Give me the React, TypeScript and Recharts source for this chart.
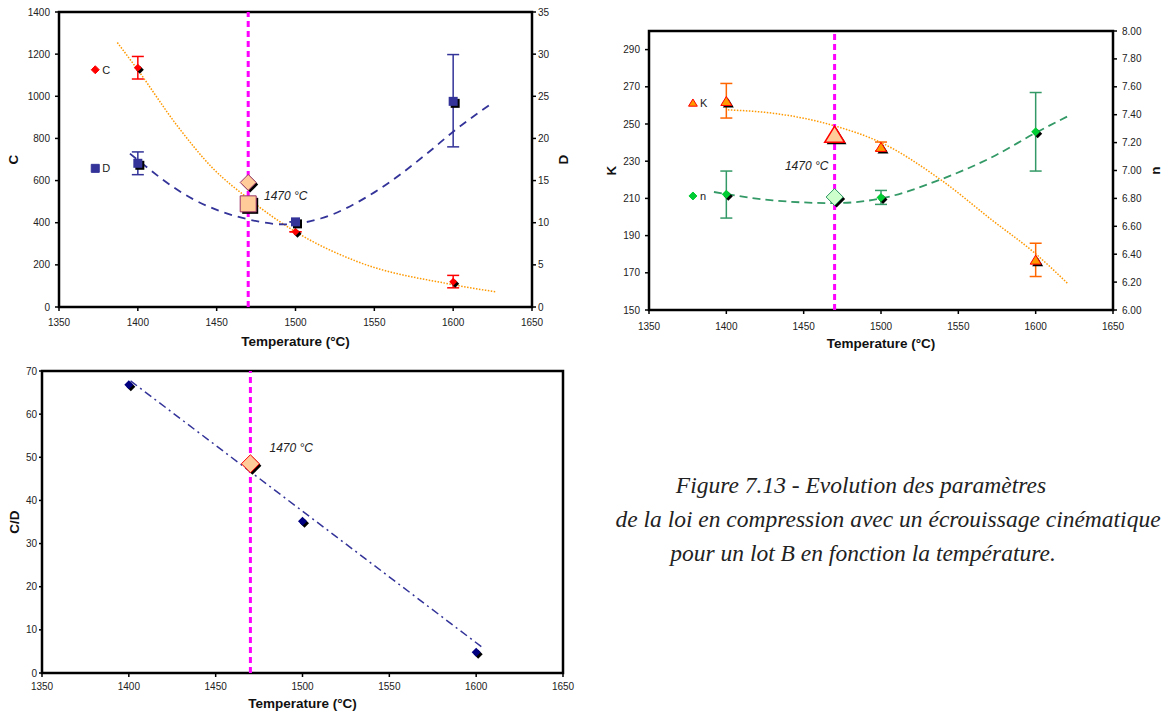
import React from 'react';
import {
  ComposedChart,
  Scatter,
  Line,
  XAxis,
  YAxis,
  ReferenceLine,
  ReferenceArea,
  ReferenceDot,
  ErrorBar,
  Label,
} from 'recharts';

const FONT = '"Liberation Sans", Arial, sans-serif';

// shared
const xTicks = [1350, 1400, 1450, 1500, 1550, 1600, 1650];
const measuredTemps = [1400, 1500, 1600];
const highlightTemp = 1470;

// chart 1 : C and D
const cValues = [1135, 357, 120];
const cErrors = [[53, 54], [0, 0], [29, 30]];
const cHighlight = 591;
const dValues = [17.05, 10.1, 24.4];
const dErrors = [[1.35, 1.35], [0, 0], [5.4, 5.55]];
const dHighlight = 12.24;
const cTrendTemps = [1387, 1400, 1425, 1448, 1470, 1500, 1539, 1600, 1627];
const cTrendValues = [1255, 1125, 860, 655, 515, 357, 216, 106, 72];
const dTrendTemps = [1395, 1435, 1470, 1493, 1516, 1550, 1584, 1600, 1624];
const dTrendValues = [18.2, 12.8, 10.4, 9.8, 10.5, 13.6, 18.3, 20.8, 24.1];
const cTicks = [0, 200, 400, 600, 800, 1000, 1200, 1400];
const dTicks = [0, 5, 10, 15, 20, 25, 30, 35];

// chart 2 : K and n
const kValues = [262.1, 237.4, 176.8];
const kErrors = [[8.9, 9.7], [1.8, 2.9], [8.8, 9.1]];
const kHighlight = 244;
const nValues = [6.829, 6.807, 7.277];
const nErrors = [[0.17, 0.167], [0.05, 0.05], [0.281, 0.282]];
const nHighlight = 6.81;
const kTrendTemps = [1401, 1430, 1470, 1501, 1539, 1572, 1600, 1621];
const kTrendValues = [257.6, 255.8, 249, 239.6, 219.8, 198.2, 180.2, 164];
const nTrendTemps = [1392, 1430, 1470, 1501, 1537, 1572, 1600, 1622];
const nTrendValues = [6.846, 6.786, 6.766, 6.802, 6.929, 7.097, 7.27, 7.396];
const kTicks = [150, 170, 190, 210, 230, 250, 270, 290];
const nTicks = [6, 6.2, 6.4, 6.6, 6.8, 7, 7.2, 7.4, 7.6, 7.8, 8];

// chart 3 : C/D
const cdValues = [66.8, 35.2, 4.8];
const cdHighlight = 48.5;
const cdTrendTemps = [1401, 1604];
const cdTrendValues = [67.7, 5.8];
const cdTicks = [0, 10, 20, 30, 40, 50, 60, 70];

const pts = (ts: number[], vs: number[], errs?: number[][]) =>
  ts.map((t, i) => ({ t, v: vs[i], err: errs ? errs[i] : undefined }));

const cPts = pts(measuredTemps, cValues, cErrors);
const dPts = pts(measuredTemps, dValues, dErrors);
const kPts = pts(measuredTemps, kValues, kErrors);
const nPts = pts(measuredTemps, nValues, nErrors);
const cdPts = pts(measuredTemps, cdValues);
const cTrend = pts(cTrendTemps, cTrendValues);
const dTrend = pts(dTrendTemps, dTrendValues);
const kTrend = pts(kTrendTemps, kTrendValues);
const nTrend = pts(nTrendTemps, nTrendValues);
const cdTrend = pts(cdTrendTemps, cdTrendValues);

type Kind = 'diamond' | 'square' | 'triangle';

const pathOf = (kind: Kind, cx: number, cy: number, r: number) => {
  if (kind === 'diamond') return `M${cx},${cy - r}L${cx + r},${cy}L${cx},${cy + r}L${cx - r},${cy}Z`;
  if (kind === 'square') return `M${cx - r},${cy - r}H${cx + r}V${cy + r}H${cx - r}Z`;
  return `M${cx},${cy - r}L${cx + r * 1.1},${cy + r * 0.8}L${cx - r * 1.1},${cy + r * 0.8}Z`;
};

const marker =
  (kind: Kind, r: number, fill: string, stroke = 'none', sw = 1, shadow = 2) =>
  (props: any) => {
    const { cx, cy } = props;
    if (cx == null || cy == null) return <g />;
    return (
      <g>
        {shadow > 0 && <path d={pathOf(kind, cx + shadow, cy + shadow, r)} fill="#000" />}
        <path d={pathOf(kind, cx, cy, r)} fill={fill} stroke={stroke} strokeWidth={sw} />
      </g>
    );
  };

const legendShape = (kind: Kind, fill: string, stroke: string, text: string) => (props: any) => {
  const { cx, cy } = props;
  return (
    <g>
      <path d={pathOf(kind, cx, cy, 4)} fill={fill} stroke={stroke} strokeWidth={1} />
      <text x={cx + 7} y={cy + 4} fontSize={11} fontFamily={FONT} fill="#222">
        {text}
      </text>
    </g>
  );
};

const noteShape = (anchor: 'start' | 'end') => (props: any) => (
  <text
    x={props.cx}
    y={props.cy + 4}
    textAnchor={anchor}
    fontSize={12}
    fontStyle="italic"
    fontFamily={FONT}
    fill="#222"
  >
    1470 °C
  </text>
);

const xTitle = (dy: number) => (props: any) => {
  const vb = props.viewBox;
  return (
    <text
      x={vb.x + vb.width / 2}
      y={vb.y + dy + 5}
      textAnchor="middle"
      fontWeight="bold"
      fontSize={13.5}
      fontFamily={FONT}
      fill="#111"
    >
      Temperature (°C)
    </text>
  );
};

const yTitle = (text: string, dx: number) => (props: any) => {
  const vb = props.viewBox;
  const x = vb.x + dx;
  const y = vb.y + vb.height / 2;
  return (
    <text
      x={x}
      y={y}
      transform={`rotate(-90, ${x}, ${y})`}
      textAnchor="middle"
      dominantBaseline="central"
      fontWeight="bold"
      fontSize={13.5}
      fontFamily={FONT}
      fill="#111"
    >
      {text}
    </text>
  );
};

const tickStyle = { fontSize: 10, fill: '#222', fontFamily: FONT };
const tickLine = { stroke: '#000', strokeWidth: 1.5 };

function ChartCD() {
  return (
    <ComposedChart width={575} height={350} margin={{ top: 12, right: 0, bottom: 0, left: 0 }}>
      <XAxis
        type="number"
        dataKey="t"
        domain={[1350, 1650]}
        ticks={xTicks}
        height={43}
        axisLine={false}
        tickSize={4}
        tickMargin={8}
        tick={tickStyle}
        tickLine={tickLine}
      >
        <Label content={xTitle(34)} />
      </XAxis>
      <YAxis
        yAxisId="left"
        type="number"
        dataKey="v"
        domain={[0, 1400]}
        ticks={cTicks}
        width={59}
        axisLine={false}
        tickSize={4}
        tickMargin={5}
        tick={tickStyle}
        tickLine={tickLine}
      >
        <Label content={yTitle('C', 13)} />
      </YAxis>
      <YAxis
        yAxisId="right"
        orientation="right"
        type="number"
        dataKey="v"
        domain={[0, 35]}
        ticks={dTicks}
        width={43}
        axisLine={false}
        tickSize={4}
        tickMargin={2}
        tick={tickStyle}
        tickLine={tickLine}
      >
        <Label content={yTitle('D', 31)} />
      </YAxis>
      <ReferenceArea yAxisId="left" x1={1350} x2={1650} y1={0} y2={1400} fill="#fff" fillOpacity={0} stroke="#000" strokeWidth={2.5} />
      <Line data={cTrend} dataKey="v" yAxisId="left" type="monotone" stroke="#FF9900" strokeWidth={1.5} strokeDasharray="1.5 1.5" dot={false} isAnimationActive={false} />
      <Line data={dTrend} dataKey="v" yAxisId="right" type="monotone" stroke="#333399" strokeWidth={1.8} strokeDasharray="8 6" dot={false} isAnimationActive={false} />
      <Scatter data={cPts} dataKey="v" yAxisId="left" shape={marker('diamond', 4, '#FF0000')} isAnimationActive={false}>
        <ErrorBar dataKey="err" direction="y" width={6} stroke="#FF0000" strokeWidth={1.5} />
      </Scatter>
      <Scatter data={dPts} dataKey="v" yAxisId="right" shape={marker('square', 4.5, '#333399')} isAnimationActive={false}>
        <ErrorBar dataKey="err" direction="y" width={6} stroke="#333399" strokeWidth={1.5} />
      </Scatter>
      <Scatter data={[{ t: highlightTemp, v: cHighlight }]} dataKey="v" yAxisId="left" shape={marker('diamond', 8, '#FFCC99', '#993366', 1, 2)} isAnimationActive={false} />
      <Scatter data={[{ t: highlightTemp, v: dHighlight }]} dataKey="v" yAxisId="right" shape={marker('square', 8, '#FFCC99', '#993366', 1, 2)} isAnimationActive={false} />
      <ReferenceLine yAxisId="left" x={highlightTemp} stroke="#FF00FF" strokeWidth={3} strokeDasharray="6 4" />
      <ReferenceDot yAxisId="left" x={1373} y={1126} r={0} shape={legendShape('diamond', '#FF0000', '#FF0000', 'C')} />
      <ReferenceDot yAxisId="left" x={1373} y={658} r={0} shape={legendShape('square', '#333399', '#333399', 'D')} />
      <ReferenceDot yAxisId="left" x={1480} y={529} r={0} shape={noteShape('start')} />
    </ComposedChart>
  );
}

function ChartKN() {
  return (
    <ComposedChart width={574} height={340} margin={{ top: 11, right: 0, bottom: 0, left: 0 }}>
      <XAxis
        type="number"
        dataKey="t"
        domain={[1350, 1650]}
        ticks={xTicks}
        height={50}
        axisLine={false}
        tickSize={4}
        tickMargin={9}
        tick={tickStyle}
        tickLine={tickLine}
      >
        <Label content={xTitle(33)} />
      </XAxis>
      <YAxis
        yAxisId="left"
        type="number"
        dataKey="v"
        domain={[150, 300]}
        ticks={kTicks}
        width={59}
        axisLine={false}
        tickSize={4}
        tickMargin={5}
        tick={tickStyle}
        tickLine={tickLine}
      >
        <Label content={yTitle('K', 21)} />
      </YAxis>
      <YAxis
        yAxisId="right"
        orientation="right"
        type="number"
        dataKey="v"
        domain={[6, 8]}
        ticks={nTicks}
        tickFormatter={(v: number) => v.toFixed(2)}
        width={51}
        axisLine={false}
        tickSize={4}
        tickMargin={5}
        tick={tickStyle}
        tickLine={tickLine}
      >
        <Label content={yTitle('n', 42)} />
      </YAxis>
      <ReferenceArea yAxisId="left" x1={1350} x2={1650} y1={150} y2={300} fill="#fff" fillOpacity={0} stroke="#000" strokeWidth={2.5} />
      <Line data={kTrend} dataKey="v" yAxisId="left" type="monotone" stroke="#FF9900" strokeWidth={1.5} strokeDasharray="1.5 1.5" dot={false} isAnimationActive={false} />
      <Line data={nTrend} dataKey="v" yAxisId="right" type="monotone" stroke="#339966" strokeWidth={1.8} strokeDasharray="8 5" dot={false} isAnimationActive={false} />
      <Scatter data={kPts} dataKey="v" yAxisId="left" shape={marker('triangle', 5, '#FF9900', '#FF0000', 1)} isAnimationActive={false}>
        <ErrorBar dataKey="err" direction="y" width={6} stroke="#FF6600" strokeWidth={1.5} />
      </Scatter>
      <Scatter data={nPts} dataKey="v" yAxisId="right" shape={marker('diamond', 4.5, '#00CC33')} isAnimationActive={false}>
        <ErrorBar dataKey="err" direction="y" width={6} stroke="#339966" strokeWidth={1.5} />
      </Scatter>
      <Scatter data={[{ t: highlightTemp, v: kHighlight }]} dataKey="v" yAxisId="left" shape={marker('triangle', 9, '#FFCC99', '#FF0000', 1.5, 2)} isAnimationActive={false} />
      <Scatter data={[{ t: highlightTemp, v: nHighlight }]} dataKey="v" yAxisId="right" shape={marker('diamond', 8.5, '#CCFFCC', '#339966', 1, 2)} isAnimationActive={false} />
      <ReferenceLine yAxisId="left" x={highlightTemp} stroke="#FF00FF" strokeWidth={3} strokeDasharray="6 4" />
      <ReferenceDot yAxisId="left" x={1378.4} y={261.3} r={0} shape={legendShape('triangle', '#FF9900', '#FF0000', 'K')} />
      <ReferenceDot yAxisId="left" x={1378.4} y={211.3} r={0} shape={legendShape('diamond', '#00CC33', '#00CC33', 'n')} />
      <ReferenceDot yAxisId="left" x={1466} y={227.5} r={0} shape={noteShape('end')} />
    </ComposedChart>
  );
}

function ChartRatio() {
  return (
    <ComposedChart width={580} height={353} margin={{ top: 11, right: 17, bottom: 0, left: 0 }}>
      <XAxis
        type="number"
        dataKey="t"
        domain={[1350, 1650]}
        ticks={xTicks}
        height={40}
        axisLine={false}
        tickSize={4}
        tickMargin={6}
        tick={tickStyle}
        tickLine={tickLine}
      >
        <Label content={xTitle(30)} />
      </XAxis>
      <YAxis
        yAxisId="left"
        type="number"
        dataKey="v"
        domain={[0, 70]}
        ticks={cdTicks}
        width={42}
        axisLine={false}
        tickSize={3}
        tickMargin={2}
        tick={tickStyle}
        tickLine={tickLine}
      >
        <Label content={yTitle('C/D', 14)} />
      </YAxis>
      <ReferenceArea yAxisId="left" x1={1350} x2={1650} y1={0} y2={70} fill="#fff" fillOpacity={0} stroke="#000" strokeWidth={2.5} />
      <Line data={cdTrend} dataKey="v" yAxisId="left" type="linear" stroke="#333399" strokeWidth={1.5} strokeDasharray="8 4 2 4" dot={false} isAnimationActive={false} />
      <Scatter data={cdPts} dataKey="v" yAxisId="left" shape={marker('diamond', 4.5, '#000080')} isAnimationActive={false} />
      <Scatter data={[{ t: highlightTemp, v: cdHighlight }]} dataKey="v" yAxisId="left" shape={marker('diamond', 9, '#FFCC99', '#FF0000', 1, 2)} isAnimationActive={false} />
      <ReferenceLine yAxisId="left" x={highlightTemp} stroke="#FF00FF" strokeWidth={3} strokeDasharray="6 4" />
      <ReferenceDot yAxisId="left" x={1481} y={52.1} r={0} shape={noteShape('start')} />
    </ComposedChart>
  );
}

const captionLines = [
  { text: 'Figure 7.13 - Evolution des paramètres', center: 861 },
  { text: 'de la loi en compression avec un écrouissage cinématique', center: 888 },
  { text: 'pour un lot B en fonction la température.', center: 863 },
];

export default function App() {
  return (
    <div style={{ position: 'absolute', left: 0, top: 0, width: 1164, height: 713, background: '#fff', overflow: 'hidden' }}>
      <div style={{ position: 'absolute', left: 0, top: 0 }}>
        <ChartCD />
      </div>
      <div style={{ position: 'absolute', left: 590, top: 20 }}>
        <ChartKN />
      </div>
      <div style={{ position: 'absolute', left: 0, top: 360 }}>
        <ChartRatio />
      </div>
      {captionLines.map((l, i) => (
        <div
          key={i}
          style={{
            position: 'absolute',
            left: l.center - 320,
            width: 640,
            top: 470 + i * 34,
            textAlign: 'center',
            fontFamily: '"Liberation Serif", serif',
            fontStyle: 'italic',
            fontSize: 23.5,
            lineHeight: '30px',
            color: '#222',
            whiteSpace: 'nowrap',
          }}
        >
          {l.text}
        </div>
      ))}
    </div>
  );
}
